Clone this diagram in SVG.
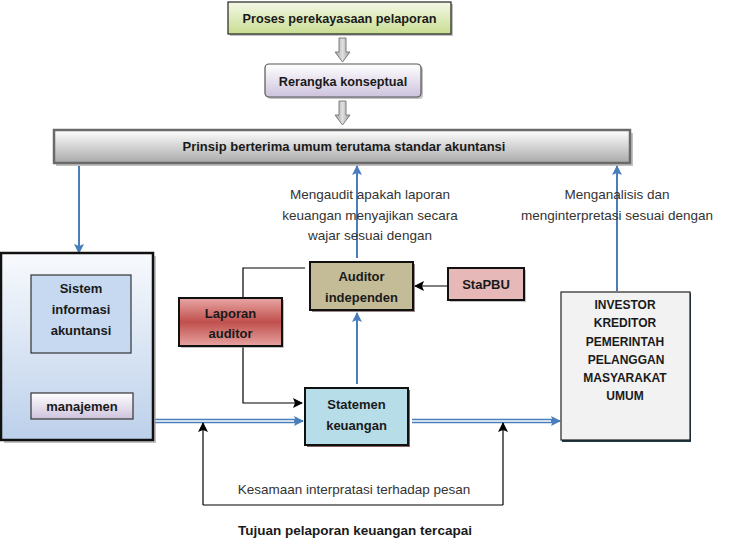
<svg xmlns="http://www.w3.org/2000/svg" width="731" height="556" viewBox="0 0 731 556">
<defs>
<linearGradient id="gGreen" x1="0" y1="0" x2="0" y2="1"><stop offset="0" stop-color="#f4f8e6"/><stop offset="1" stop-color="#c9dd92"/></linearGradient>
<linearGradient id="gLav" x1="0" y1="0" x2="0" y2="1"><stop offset="0" stop-color="#ffffff"/><stop offset="1" stop-color="#cdc3dd"/></linearGradient>
<linearGradient id="gGray" x1="0" y1="0" x2="0" y2="1"><stop offset="0" stop-color="#ffffff"/><stop offset="1" stop-color="#a9a9a9"/></linearGradient>
<linearGradient id="gBlue" x1="0" y1="0" x2="0" y2="1"><stop offset="0" stop-color="#f8fafd"/><stop offset="1" stop-color="#bcd0ea"/></linearGradient>
<linearGradient id="gRed" x1="0" y1="0" x2="0" y2="1"><stop offset="0" stop-color="#e8a7a5"/><stop offset="0.5" stop-color="#c0504d"/><stop offset="1" stop-color="#e6a3a1"/></linearGradient>
<linearGradient id="gArrow" x1="0" y1="0" x2="1" y2="0"><stop offset="0" stop-color="#9a9a9a"/><stop offset="0.5" stop-color="#e0e0e0"/><stop offset="1" stop-color="#9a9a9a"/></linearGradient>
<marker id="mBlue" viewBox="0 0 10 10" refX="9" refY="5" markerWidth="10" markerHeight="10" markerUnits="userSpaceOnUse" orient="auto"><path d="M0,0 L10,5 L0,10 L2,5 z" fill="#4a7ebb"/></marker>
<marker id="mBlack" viewBox="0 0 10 10" refX="9" refY="5" markerWidth="10" markerHeight="10" markerUnits="userSpaceOnUse" orient="auto"><path d="M0,0 L10,5 L0,10 L2,5 z" fill="#000"/></marker>
</defs>
<style>
.b{font-family:"Liberation Sans",Arial,sans-serif;font-weight:bold;font-size:12px;fill:#1a1a1a;text-anchor:middle}
.bt{font-family:"Liberation Sans",Arial,sans-serif;font-weight:bold;font-size:13px;fill:#1a1a1a;text-anchor:middle}
.bm{font-family:"Liberation Sans",Arial,sans-serif;font-weight:bold;font-size:13px;fill:#1a1a1a;text-anchor:middle}
.l{font-family:"Liberation Sans",Arial,sans-serif;font-size:13.5px;fill:#333;text-anchor:middle}
.sh{fill:#9a9a9a;opacity:0.6}
.blue{stroke:#4a7ebb;stroke-width:2;fill:none}
.blk{stroke:#000;stroke-width:1.2;fill:none}
</style>
<rect width="731" height="556" fill="#fff"/>

<g id="connectors">
<path d="M339,38 h7 v14 h4 l-7.5,10 l-7.5,-10 h4 z" fill="url(#gArrow)" stroke="#7f7f7f" stroke-width="1"/>
<path d="M339,101 h7 v14 h4 l-7.5,10 l-7.5,-10 h4 z" fill="url(#gArrow)" stroke="#7f7f7f" stroke-width="1"/>
<line x1="79" y1="166" x2="79" y2="253" class="blue" marker-end="url(#mBlue)"/>
<line x1="357" y1="258" x2="357" y2="166" class="blue" marker-end="url(#mBlue)"/>
<line x1="617" y1="291" x2="617" y2="166" class="blue" marker-end="url(#mBlue)"/>
<line x1="357" y1="384" x2="357" y2="313" class="blue" marker-end="url(#mBlue)"/>
<path d="M155,421 H296" stroke="#4a7ebb" stroke-width="4.5" fill="none"/>
<path d="M155,421 H296" stroke="#fff" stroke-width="1.5" fill="none"/>
<path d="M294,421 H303" class="blue" marker-end="url(#mBlue)"/>
<path d="M412,421 H553" stroke="#4a7ebb" stroke-width="4.5" fill="none"/>
<path d="M412,421 H553" stroke="#fff" stroke-width="1.5" fill="none"/>
<path d="M551,421 H560" class="blue" marker-end="url(#mBlue)"/>
<path d="M448,286 H415" class="blk" marker-end="url(#mBlack)"/>
<path d="M243,298 V268 H305" class="blk"/>
<path d="M243,346 V403 H302" class="blk" marker-end="url(#mBlack)"/>
<path d="M203,505 V423" class="blk" marker-end="url(#mBlack)"/>
<path d="M503,505 V423" class="blk" marker-end="url(#mBlack)"/>
<path d="M203,505 H503" class="blk"/>
</g>

<g id="n-proses">
<rect x="230" y="4" width="223" height="32" class="sh"/>
<rect x="228" y="2" width="223" height="32" fill="url(#gGreen)" stroke="#222" stroke-width="1.2"/>
<text x="339.5" y="22.5" class="b" style="font-size:12.7px">Proses perekayasaan pelaporan</text>
</g>

<g id="n-rerangka">
<rect x="267" y="66" width="156" height="33" rx="4" class="sh"/>
<rect x="265" y="64" width="156" height="33" rx="4" fill="url(#gLav)" stroke="#555" stroke-width="1.2"/>
<text x="343" y="85.5" class="b" style="font-size:12.7px">Rerangka konseptual</text>
</g>

<g id="n-prinsip">
<rect x="56" y="133" width="577" height="33" class="sh"/>
<rect x="54" y="130" width="576" height="33" fill="url(#gGray)" stroke="#6a6a6a" stroke-width="2.5"/>
<text x="344" y="151" class="bt">Prinsip berterima umum terutama standar akuntansi</text>
</g>

<g id="n-left">
<rect x="4" y="256" width="152" height="187" class="sh"/>
<rect x="1" y="253" width="152" height="187" fill="url(#gBlue)" stroke="#111" stroke-width="2.5"/>
</g>

<g id="n-sistem">
<rect x="31" y="275" width="100" height="78" fill="#c6d9f0" stroke="#333" stroke-width="1.2"/>
<text x="81" y="293" class="bm">Sistem</text>
<text x="81" y="314" class="bm">informasi</text>
<text x="81" y="335" class="bm">akuntansi</text>
</g>

<g id="n-manajemen">
<rect x="31" y="393" width="102" height="26" fill="url(#gLav)" stroke="#333" stroke-width="1.2"/>
<text x="82" y="411" class="bm">manajemen</text>
</g>

<g id="n-laporan">
<rect x="181" y="300" width="103" height="48" class="sh"/>
<rect x="179" y="298" width="103" height="48" fill="url(#gRed)" stroke="#111" stroke-width="2"/>
<text x="230.5" y="318" class="bm">Laporan</text>
<text x="230.5" y="338" class="bm">auditor</text>
</g>

<g id="n-auditor">
<rect x="312" y="264" width="103" height="48" fill="#5a3a3a" opacity="0.6"/>
<rect x="310" y="262" width="103" height="48" fill="#c4bc96" stroke="#111" stroke-width="2"/>
<text x="361.5" y="281" class="bm">Auditor</text>
<text x="361.5" y="302" class="bm">independen</text>
</g>

<g id="n-stapbu">
<rect x="450" y="270" width="76" height="32" class="sh"/>
<rect x="448" y="268" width="76" height="32" fill="#e6b9b8" stroke="#111" stroke-width="2"/>
<text x="486" y="289" class="bm">StaPBU</text>
</g>

<g id="n-statemen">
<rect x="307" y="390" width="103" height="57" fill="#5a2020" opacity="0.7"/>
<rect x="305" y="388" width="103" height="57" fill="#b7dde8" stroke="#111" stroke-width="2"/>
<text x="356.5" y="409" class="bm">Statemen</text>
<text x="356.5" y="430" class="bm">keuangan</text>
</g>

<g id="n-investor">
<rect x="562" y="293" width="129" height="149" fill="#1f3a4a"/>
<rect x="561" y="292" width="129" height="148" fill="#f2f2f2" stroke="#222" stroke-width="1.2"/>
<text x="625" y="309" class="b">INVESTOR</text>
<text x="625" y="327" class="b">KREDITOR</text>
<text x="625" y="346" class="b">PEMERINTAH</text>
<text x="626" y="364" class="b">PELANGGAN</text>
<text x="625" y="382" class="b">MASYARAKAT</text>
<text x="625" y="400" class="b">UMUM</text>
</g>

<g id="labels">
<text x="370" y="199" class="l">Mengaudit apakah laporan</text>
<text x="370" y="220" class="l">keuangan menyajikan secara</text>
<text x="370" y="240" class="l">wajar sesuai dengan</text>
<text x="617" y="199" class="l">Menganalisis dan</text>
<text x="617" y="220" class="l">menginterpretasi sesuai dengan</text>
<text x="354" y="494" class="l">Kesamaan interpratasi terhadap pesan</text>
<text x="355" y="535" class="bt" style="font-size:13.5px">Tujuan pelaporan keuangan tercapai</text>
</g>
</svg>
